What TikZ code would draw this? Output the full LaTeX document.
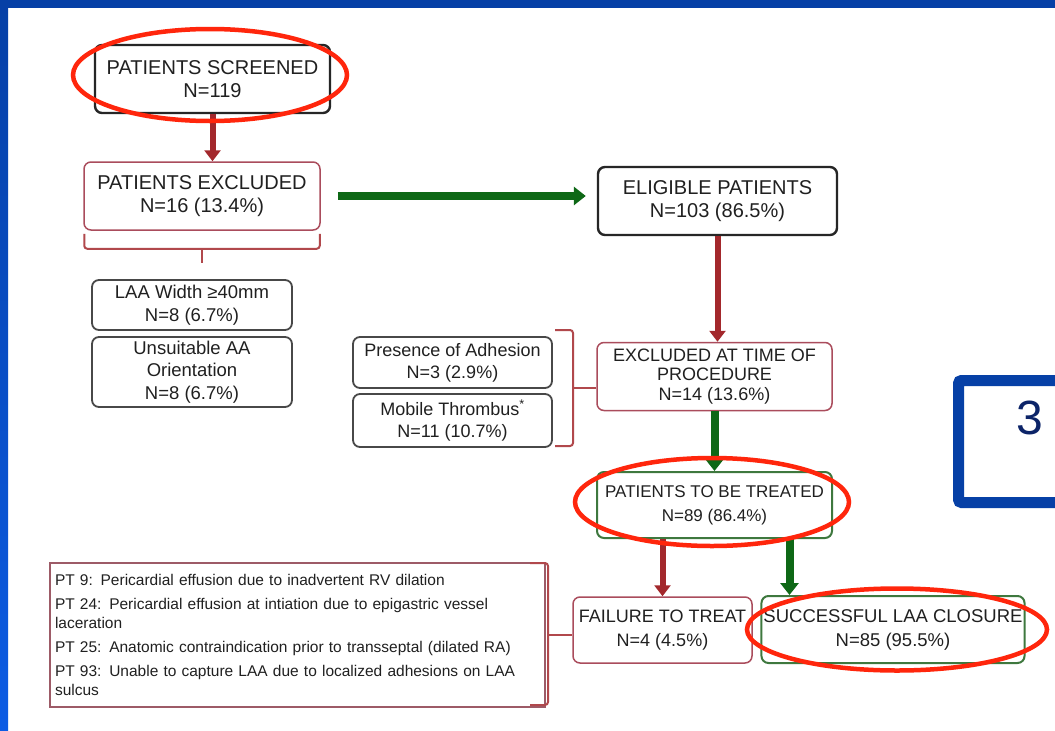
\documentclass[tikz,border=0pt]{standalone}
\usepackage{fontspec}
\setmainfont{Liberation Sans}
\usepackage{tikz}
\definecolor{azulmarco}{RGB}{6,64,166}
\definecolor{azulclaro}{RGB}{12,92,228}
\definecolor{azultexto}{RGB}{12,36,104}
\definecolor{granate}{RGB}{163,40,44}
\definecolor{verdeosc}{RGB}{14,104,22}
\definecolor{rojizo}{RGB}{170,76,92}
\definecolor{verdeborde}{RGB}{62,120,62}
\definecolor{gris}{RGB}{72,72,72}
\definecolor{tinta}{RGB}{32,32,32}
\definecolor{rojovivo}{RGB}{255,38,12}
\usetikzlibrary{arrows.meta,positioning,calc}

\begin{document}
\begin{tikzpicture}[x=1pt,y=-1pt,
    caja/.style={rounded corners=7pt,align=center,text=tinta,inner sep=2pt},
    cajanegra/.style={caja,draw=black!85,line width=2.4pt,font=\fontsize{20}{23}\selectfont},
    cajaroja/.style={caja,draw=rojizo,line width=1.5pt},
    cajaverde/.style={caja,draw=verdeborde,line width=2pt},
    cajagris/.style={caja,draw=gris,line width=1.8pt,font=\fontsize{18.5}{22.5}\selectfont},
    flecharoja/.style={granate,line width=6pt,-{Triangle[length=11pt,width=16pt]}},
    flechaverde/.style={verdeosc,line width=8pt,-{Triangle[length=12pt,width=18pt]}},
    llave/.style={granate!85!white,line width=2pt,rounded corners=3pt},
    ovalo/.style={rojovivo,line width=4.5pt}]
  \useasboundingbox (0,0) rectangle (1055,731);
  \fill[white] (0,0) rectangle (1055,731);
  \fill[azulmarco] (0,0) rectangle (1055,8);
  \shade[top color=azulmarco,bottom color=azulclaro] (0,0) rectangle (8,731);

  \node[cajanegra,minimum width=235pt,minimum height=68pt] (scr) at (212.5,79)
    {PATIENTS SCREENED\\N=119};
  \node[cajaroja,font=\fontsize{20}{23}\selectfont,minimum width=236pt,minimum height=68pt]
    (excl) at (202,196) {PATIENTS EXCLUDED\\N=16 (13.4\%)};
  \node[cajanegra,minimum width=239pt,minimum height=68pt] (elig) at (717.5,201)
    {ELIGIBLE PATIENTS\\N=103 (86.5\%)};
  \node[cajaroja,font=\fontsize{18}{19.5}\selectfont,minimum width=235pt,minimum height=68pt]
    (exproc) at (714.5,376.5) {EXCLUDED AT TIME OF\\PROCEDURE\\N=14 (13.6\%)};
  \node[cajaverde,font=\fontsize{17}{24}\selectfont,minimum width=235pt,minimum height=66pt]
    (treat) at (714.5,505) {PATIENTS TO BE TREATED\\N=89 (86.4\%)};
  \node[cajaroja,font=\fontsize{18}{24}\selectfont,minimum width=179pt,minimum height=66pt]
    (fail) at (662.5,630) {FAILURE TO TREAT\\N=4 (4.5\%)};
  \node[cajaverde,font=\fontsize{18.5}{24}\selectfont,minimum width=260pt,minimum height=67pt]
    (succ) at (893,629.5) {SUCCESSFUL LAA CLOSURE\\N=85 (95.5\%)};

  \node[cajagris,minimum width=200pt,minimum height=50pt] (laaw) at (192,305)
    {LAA Width ≥40mm\\N=8 (6.7\%)};
  \node[cajagris,minimum width=200pt,minimum height=70pt] (unsuit) at (192,372)
    {Unsuitable AA\\Orientation\\N=8 (6.7\%)};
  \node[cajagris,font=\fontsize{18}{22}\selectfont,minimum width=199pt,minimum height=51pt]
    (adh) at (452.5,362.5) {Presence of Adhesion\\N=3 (2.9\%)};
  \node[cajagris,font=\fontsize{18}{22}\selectfont,minimum width=199pt,minimum height=53pt]
    (thromb) at (452.5,420.5) {Mobile Thrombus\textsuperscript{*}\\N=11 (10.7\%)};

  \node[draw=rojizo!70!gray,line width=1.4pt,align=left,text=tinta,inner sep=5pt,
        text width=485pt,minimum width=495pt,minimum height=144pt,
        font=\fontsize{15.5}{19}\selectfont] (lista) at (297.5,635)
    {PT 9: Pericardial effusion due to inadvertent RV dilation\\[5pt]
     PT 24: Pericardial effusion at intiation due to epigastric vessel\\
     laceration\\[5pt]
     PT 25: Anatomic contraindication prior to transseptal (dilated RA)\\[5pt]
     PT 93: Unable to capture LAA due to localized adhesions on LAA\\
     sulcus};

  \begin{scope}
    \clip (0,0) rectangle (1055,731);
    \draw[azulmarco,line width=11pt,rounded corners=3pt] (958.5,380.5) rectangle (1080,502.5);
  \end{scope}
  \node[font=\fontsize{48}{48}\selectfont,text=azultexto] (tres) at (1030,418) {3};

  \draw[flecharoja] (scr.south) -- (scr.south |- excl.north);
  \draw[flechaverde,shorten <=17pt,shorten >=11pt] (excl.east) -- (excl.east -| elig.west);
  \draw[flecharoja] (elig.south) -- (elig.south |- exproc.north);
  \draw[flechaverde] (exproc.south) -- (exproc.south |- treat.north);
  \draw[flecharoja] (treat.south -| fail.north) -- (fail.north);
  \draw[flechaverde] ([xshift=75pt]treat.south) -- ([xshift=75pt]treat.south |- succ.north);

  \draw[llave] ([xshift=1pt,yshift=-3pt]excl.south west) -- ([xshift=1pt,yshift=-18pt]excl.south west)
    -- ([xshift=-1pt,yshift=-18pt]excl.south east) -- ([xshift=-1pt,yshift=-3pt]excl.south east);
  \draw[llave] ([yshift=-18pt]excl.south) -- ([yshift=-32pt]excl.south);
  \coordinate (llaveA) at (573,388);
  \draw[llave] (555,330) -- (573,330) -- (573,446) -- (555,446);
  \draw[llave] (llaveA) -- (llaveA -| exproc.west);
  \coordinate (llaveB) at (548,635);
  \draw[llave] (530,563) -- (548,563) -- (548,705) -- (530,705);
  \draw[llave] (llaveB) -- (llaveB -| fail.west);

  \draw[ovalo] ([xshift=-2.5pt,yshift=4pt]scr.center) ellipse [x radius=137pt,y radius=46pt];
  \draw[ovalo] ([xshift=-2.5pt,yshift=3pt]treat.center) ellipse [x radius=137pt,y radius=44pt];
  \draw[ovalo] ([xshift=4pt]succ.center) ellipse [x radius=150pt,y radius=41pt];
\end{tikzpicture}
\end{document}
